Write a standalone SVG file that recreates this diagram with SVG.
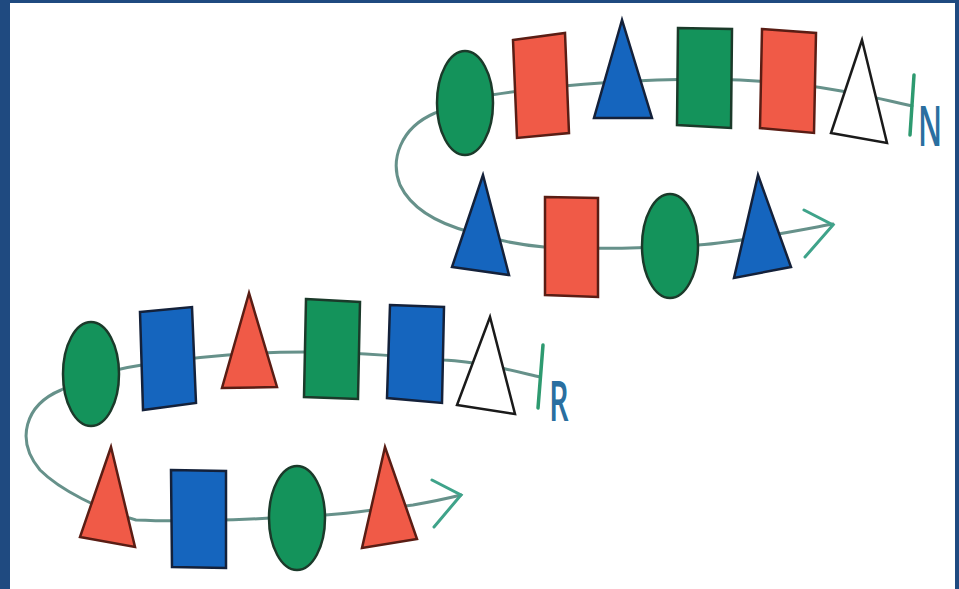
<svg xmlns="http://www.w3.org/2000/svg" width="959" height="589" viewBox="0 0 959 589">
<style>
.bg{fill:#ffffff}
.frame{fill:#1f4a80}
.link{fill:none;stroke:#66918a;stroke-width:3;stroke-linecap:round;stroke-linejoin:round}
.head{fill:none;stroke:#3fa38a;stroke-width:3;stroke-linecap:round;stroke-linejoin:miter}
.tick{stroke:#2e9a70;stroke-width:3.5;stroke-linecap:round}
.g{fill:#14935b;stroke:#1b3a2a;stroke-width:2.5}
.r{fill:#f05a47;stroke:#5a1d14;stroke-width:2.5;stroke-linejoin:miter}
.b{fill:#1565be;stroke:#14213a;stroke-width:2.5;stroke-linejoin:miter}
.w{fill:#ffffff;stroke:#1a1a1a;stroke-width:2.5;stroke-linejoin:miter}
.lbl{font-family:"Open Sans","Liberation Sans",sans-serif;font-size:56px;font-weight:600;fill:#2a6fa0}
</style>
<rect class="bg" x="0" y="0" width="959" height="589"/>
<rect class="frame" x="0" y="0" width="10" height="589"/>
<rect class="frame" x="0" y="0" width="959" height="3"/>
<rect class="frame" x="955" y="0" width="4" height="589"/>

<g id="connectors">
  <path class="link" d="M912,106 C870,96 820,84 740,80 C660,77 560,84 491,95 C470,99 452,105 435,113 C400,128 390,160 400,185 C412,210 440,224 470,232 C495,240 520,245 544,247 C600,250 650,248 698,245 C740,242 790,232 833,224"/>
  <path class="head" d="M804,210 L833,225 L805,257"/>
  <path class="link" d="M540,377 C510,370 480,362 444,360 C400,356 350,352 306,352 C260,352 200,356 142,365 C110,370 80,380 61,390 C25,405 15,440 40,470 C60,490 100,510 136,520 C180,522 240,520 270,518 C320,517 360,512 413,505 C430,502 445,499 461,495"/>
  <path class="head" d="M432,480 L461,495 L434,527"/>
  <line class="tick" x1="914" y1="75" x2="910" y2="135"/>
  <line class="tick" x1="543" y1="345" x2="538" y2="408"/>
</g>

<g id="chain-n-top">
  <ellipse id="n1" class="g" cx="465" cy="103" rx="28" ry="52"/>
  <polygon id="n2" class="r" points="513,40 565,33 569,133 517,138"/>
  <polygon id="n3" class="b" points="622,20 594,118 652,118"/>
  <polygon id="n4" class="g" points="678,28 732,29 731,128 677,125"/>
  <polygon id="n5" class="r" points="762,29 816,33 814,133 760,128"/>
  <polygon id="n6" class="w" points="862,40 831,133 887,143"/>
</g>
<g id="chain-n-bottom">
  <polygon id="n7" class="b" points="483,175 452,267 509,275"/>
  <polygon id="n8" class="r" points="545,197 598,198 598,297 545,295"/>
  <ellipse id="n9" class="g" cx="670" cy="246" rx="28" ry="52"/>
  <polygon id="n10" class="b" points="758,175 734,278 791,267"/>
</g>
<g id="label-n">
  <text class="lbl" transform="translate(918,146) scale(0.55,1)" x="0" y="0">N</text>
</g>

<g id="chain-r-top">
  <ellipse id="r1" class="g" cx="91" cy="374" rx="28" ry="52"/>
  <polygon id="r2" class="b" points="140,312 192,307 196,403 143,410"/>
  <polygon id="r3" class="r" points="249,293 222,388 277,387"/>
  <polygon id="r4" class="g" points="306,299 360,302 358,399 304,397"/>
  <polygon id="r5" class="b" points="390,305 444,307 442,403 387,398"/>
  <polygon id="r6" class="w" points="490,317 457,405 515,414"/>
</g>
<g id="chain-r-bottom">
  <polygon id="r7" class="r" points="111,447 80,537 135,547"/>
  <polygon id="r8" class="b" points="171,470 226,471 226,568 172,567"/>
  <ellipse id="r9" class="g" cx="297" cy="518" rx="28" ry="52"/>
  <polygon id="r10" class="r" points="385,447 362,548 417,539"/>
</g>
<g id="label-r">
  <text class="lbl" transform="translate(549,421) scale(0.55,1)" x="0" y="0">R</text>
</g>
</svg>
